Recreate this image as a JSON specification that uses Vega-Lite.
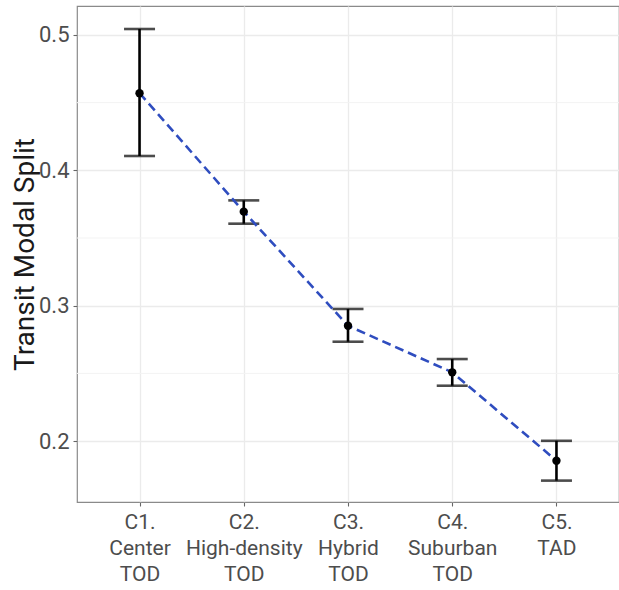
{
  "$schema": "https://vega.github.io/schema/vega-lite/v6.json",
  "width": 542,
  "height": 496,
  "autosize": {"type": "none"},
  "padding": {"left": 77, "top": 6, "right": 0, "bottom": 88},
  "background": "white",
  "config": {
    "font": "Roboto",
    "view": {"stroke": "#8a8a8a", "strokeWidth": 1.2},
    "axis": {
      "domain": false,
      "grid": true,
      "gridColor": "#ebebeb",
      "gridWidth": 1.3,
      "tickColor": "#666666",
      "tickSize": 4,
      "tickWidth": 1.1,
      "labelColor": "#4d4d4d",
      "labelFontSize": 22,
      "titleColor": "#1a1a1a",
      "titleFontWeight": "normal"
    }
  },
  "datasets": {
    "main": [
      {"cluster": "C1.|Center|TOD", "mean": 0.457, "lo": 0.4106, "hi": 0.5044},
      {"cluster": "C2.|High-density|TOD", "mean": 0.3695, "lo": 0.3606, "hi": 0.3778},
      {"cluster": "C3.|Hybrid|TOD", "mean": 0.2852, "lo": 0.2734, "hi": 0.2976},
      {"cluster": "C4.|Suburban|TOD", "mean": 0.2508, "lo": 0.2409, "hi": 0.2606},
      {"cluster": "C5.|TAD", "mean": 0.1855, "lo": 0.1708, "hi": 0.2002}
    ],
    "minor": [{"v": 0.25}, {"v": 0.35}, {"v": 0.45}]
  },
  "layer": [
    {
      "data": {"name": "minor"},
      "mark": {"type": "rule", "color": "#f3f3f3", "strokeWidth": 1},
      "encoding": {
        "y": {"field": "v", "type": "quantitative", "scale": {"domain": [0.155, 0.5214], "nice": false, "zero": false}}
      }
    },
    {
      "data": {"name": "main"},
      "layer": [
        {
          "mark": {"type": "rule", "color": "black", "strokeWidth": 2.6},
          "encoding": {
            "x": {"field": "cluster", "type": "nominal", "sort": null,
              "scale": {"type": "point", "padding": 0.6},
              "axis": {"title": null, "labelAngle": 0, "labelExpr": "split(datum.value, '|')",
                "labelBaseline": "top", "labelLineHeight": 26, "labelPadding": 5, "labelOverlap": false, "labelFontSize": 21}},
            "y": {"field": "lo", "type": "quantitative",
              "scale": {"domain": [0.155, 0.5214], "nice": false, "zero": false},
              "axis": {"title": "Transit Modal Split", "values": [0.2, 0.3, 0.4, 0.5], "format": ".1f",
                "labelPadding": 4, "titleFontSize": 28, "titleAngle": -90,
                "titleX": -44, "titleY": 248, "titleAlign": "center", "titleBaseline": "alphabetic"}},
            "y2": {"field": "hi"}
          }
        },
        {
          "mark": {"type": "tick", "color": "black", "thickness": 2.6, "size": 31, "orient": "horizontal"},
          "encoding": {
            "x": {"field": "cluster", "type": "nominal", "sort": null},
            "y": {"field": "lo", "type": "quantitative"}
          }
        },
        {
          "mark": {"type": "tick", "color": "black", "thickness": 2.6, "size": 31, "orient": "horizontal"},
          "encoding": {
            "x": {"field": "cluster", "type": "nominal", "sort": null},
            "y": {"field": "hi", "type": "quantitative"}
          }
        },
        {
          "mark": {"type": "line", "color": "#2f4dbf", "strokeWidth": 2.6, "strokeDash": [9, 5]},
          "encoding": {
            "x": {"field": "cluster", "type": "nominal", "sort": null},
            "y": {"field": "mean", "type": "quantitative"}
          }
        },
        {
          "mark": {"type": "point", "filled": true, "color": "black", "size": 70, "opacity": 1},
          "encoding": {
            "x": {"field": "cluster", "type": "nominal", "sort": null},
            "y": {"field": "mean", "type": "quantitative"}
          }
        }
      ]
    }
  ]
}
